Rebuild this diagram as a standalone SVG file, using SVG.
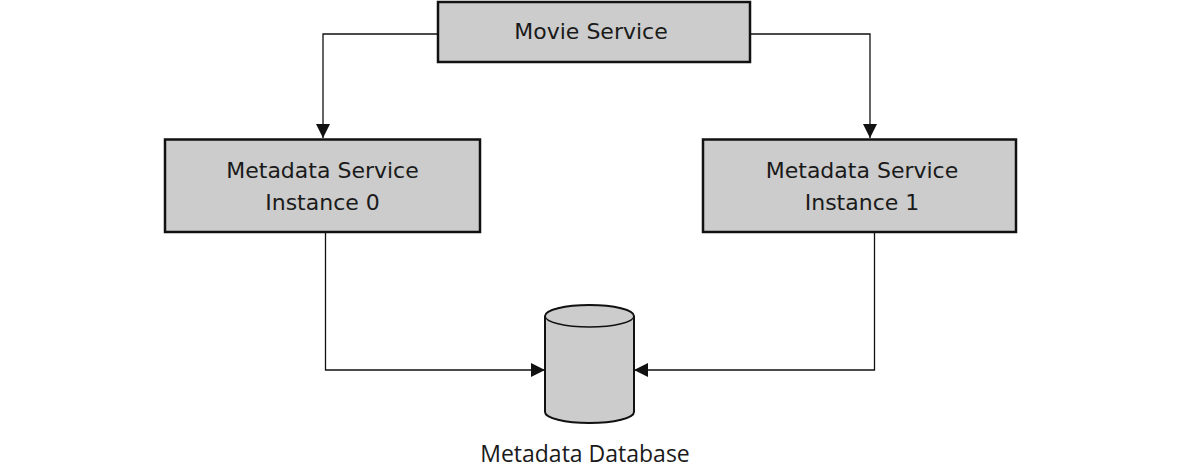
<svg xmlns="http://www.w3.org/2000/svg" width="1183" height="467" viewBox="0 0 1183 467">
<style>
.box{fill:#cccccc;stroke:#111;stroke-width:2.5}
.lbl{font-family:"DejaVu Sans","Liberation Sans",sans-serif;font-size:22px;fill:#1a1a1a;text-anchor:middle}
.db{font-family:"Open Sans","Noto Sans",sans-serif;font-size:23px;fill:#1a1a1a;text-anchor:middle}
.conn{fill:none;stroke:#111;stroke-width:1.3}
</style>
<defs>
<marker id="arr" viewBox="0 0 10 10" refX="10" refY="5" markerWidth="14" markerHeight="14" markerUnits="userSpaceOnUse" orient="auto">
<path d="M0,0 L10,5 L0,10 z" fill="#111"/>
</marker>
</defs>
<rect width="1183" height="467" fill="#fff"/>
<g id="connectors">
<path class="conn" d="M438,34 H323 V138" marker-end="url(#arr)"/>
<path class="conn" d="M750,34 H870 V138" marker-end="url(#arr)"/>
<path class="conn" d="M325.5,232 V370 H545" marker-end="url(#arr)"/>
<path class="conn" d="M874.5,232 V370 H634" marker-end="url(#arr)"/>
</g>
<g id="movie-service">
<rect class="box" x="438" y="2" width="312" height="60"/>
<text class="lbl" x="591" y="39">Movie Service</text>
</g>
<g id="metadata-instance-0">
<rect class="box" x="165" y="139.5" width="315" height="92.5"/>
<text class="lbl" x="322.5" y="178">Metadata Service</text>
<text class="lbl" x="322.5" y="210">Instance 0</text>
</g>
<g id="metadata-instance-1">
<rect class="box" x="703" y="139.5" width="313" height="92.5"/>
<text class="lbl" x="862" y="178">Metadata Service</text>
<text class="lbl" x="862" y="210">Instance 1</text>
</g>
<g id="metadata-database">
<path d="M545,316 V412 A44.5,11 0 0 0 634,412 V316 A44.5,11 0 0 0 545,316 Z" fill="#cccccc" stroke="#111" stroke-width="2"/>
<path d="M545,316 A44.5,11 0 0 0 634,316" fill="none" stroke="#111" stroke-width="1.5"/>
<text class="db" x="585" y="462">Metadata Database</text>
</g>
</svg>
